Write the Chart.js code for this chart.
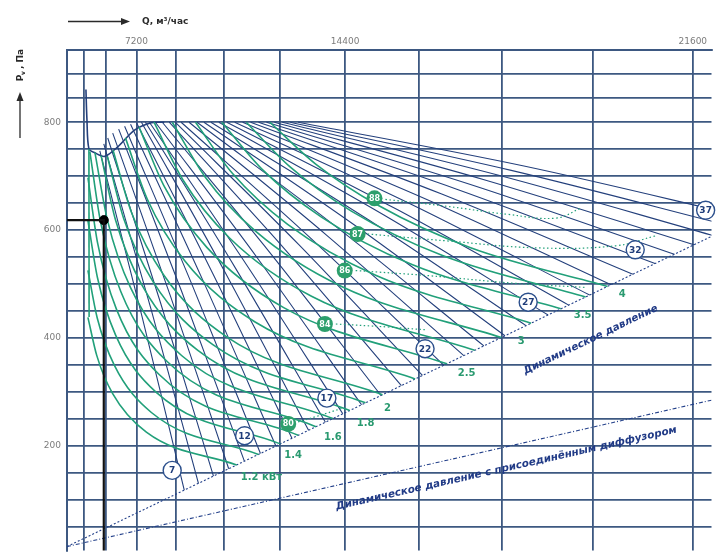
<!DOCTYPE html>
<html><head><meta charset="utf-8">
<script src="https://cdn.jsdelivr.net/npm/chart.js@4.4.1/dist/chart.umd.min.js"></script>
<style>html,body{margin:0;padding:0;background:#fff;}canvas{display:block}</style>
</head><body>
<canvas id="c" width="717" height="556"></canvas>
<script>
// ---------- axes ----------
const gridQ = [0,3600,5400,7200,9000,10800,12600,14400,16200,18000,19800,21600];
const xTickLabels = [7200,14400,21600];
const gridP = [50,100,150,200,250,300,350,400,450,500,550,600,650,700,750,800,845,890];
const yTickLabels = [200,400,600,800];

// ---------- blue fan curves (start / middle / end) ----------
const blueStartQ = [4947,5237,5512,5838,6206,6554,6884,7199,7451,7647,7838,8116,8429,8730,8981,9224,9540,9845,10104,10357,10639,10913,11181,11442,11698,11948,12193,12433,12668,12900,13127];
const blueStartP = [746.8,759.7,770.7,779.9,787.2,792.7,796.4,799.1,800,800,800,800,800,800,800,800,800,800,800,800,800,800,800,800,800,800,800,800,800,800,800];
const blueMidQ = [7481,7922,8354,8794,9240,9674,10079,10478,10855,11207,11558,11948,12353,12759,13147,13529,13909,14279,14639,14991,15361,15702,16041,16379,16715,17047,17344,17635,17920,18199,18457];
const blueMidP = [439.5,452.3,464.6,476.0,486.8,496.4,505.2,513.8,521.9,529.4,536.6,545.3,554.1,563.2,572.8,581.7,590.7,599.9,609.4,619.0,628.2,637.5,647.1,656.8,666.7,675.8,684.6,693.4,702.0,710.7,718.7];
const blueEndQ = [9350,9900,10450,10980,11500,12010,12480,12950,13420,13880,14340,14820,15300,15790,16280,16760,17200,17630,18070,18500,18940,19340,19740,20140,20540,20940,21280,21620,21950,22270,22560];
const blueEndP = [117.6,130.2,143.6,157.2,171.2,185.5,199.4,213.7,228.5,243.5,259.1,275.8,293.2,311.4,330.2,349.2,367.1,385.0,403.8,422.6,442.3,460.7,479.4,498.6,518.0,537.9,555.1,572.6,589.7,606.7,622.3];
// envelope with stall spike
const envQ = [3757,3855,4042,4558,5307,6146,7095,7932,8516];
const envP = [860.6,805.6,750.5,743.2,736.7,754.2,785.4,799.1,800];
// left stall boundary (teal)
const stallQ = [4042,4060];
const stallP = [750.5,438.6];

// ---------- green power curves ----------
const powerNames = ['1.2','1.3','1.4','1.5','1.6','1.7','1.8','1.9','2','2.25','2.5','2.75','3','3.25','3.5','3.75','4'];
const greenQ = [
 [3949,4714,5844,7692,11247],[3949,4743,5937,7932,11948],[3949,4768,6014,8146,12610],[3949,4783,6070,8300,13127],
 [4130,5000,6338,8651,13624],[4560,5490,6890,9254,14078],[5040,6025,7484,9878,14518],[5480,6510,8015,10428,14919],
 [5860,6934,8483,10924,15335],[6600,7739,9360,11842,16111],[7330,8533,10211,12711,16829],[8054,9306,11018,13502,17433],
 [8861,10148,11874,14309,17996],[9788,11103,12826,15183,18603],[10744,12071,13774,16038,19189],[11561,12888,14560,16733,19665],
 [12298,13617,15251,17333,20074]];
const greenP = [
 [438.1,367.0,296.0,224.9,164.3],[525.2,437.3,349.4,261.5,183.8],[617.6,511.5,405.5,299.4,203.3],[697,575.2,453.3,331.5,219.2],
 [745,615.2,485.4,355.6,235.1],[744,618.3,492.6,366.8,250.2],[738,617.6,497.2,376.7,265.2],[737,620.4,503.9,387.3,279.4],
 [748,632.5,517,401.5,294.4],[771,657.2,543.4,429.5,323.6],[791,679.4,567.8,456.1,352.0],[800,692.4,584.8,477.2,376.8],
 [800,698.5,597,495.4,400.7],[800,705.2,610.5,515.7,427.2],[800,712,624,535.9,453.8],[800,717.6,635.2,552.7,475.9],
 [800,722.5,645.1,567.6,495.4]];

// ---------- efficiency (dotted) ----------
const effNames = ['88','87','86','84','80'];
const effQ = [[15407,16829,18099,19093,19571],[14969,16829,18702,20221,20940],[14670,16384,18302,19665],[14157,15455,16384],[13127,13679,14338]];
const effP = [[656.9,644.1,629.4,622.1,640.4],[592.7,579.9,567.0,570.7,589.0],[524.8,515.6,501.0,493.6],[425.7,420.2,414.7],[244.1,255.1,269.7]];
const effLabelQ = [15141,14720,14390,13867,12843];
const effLabelP = [658.8,592.7,524.8,425.7,240.4];

// ---------- labels ----------
const bladeLabels = ['7','12','17','22','27','32','37'];
const bladeLabelQ = [8856,11507,13920,16339,18543,20583,21821];
const bladeLabelP = [154.1,218.4,288.1,379.8,466.1,563.3,636.7];
const powerLabels = ['1.2 кВт','1.4','1.6','1.8','2','2.5','3','3.5','4'];
const powerLabelQ = [12040,12986,14078,14919,15455,17263,18402,19609,20348];
const powerLabelP = [141.3,181.7,214.7,242.2,269.7,334.0,392.7,442.2,480.8];

// dynamic pressure lines
const dynQ = [0,22307];
const dynP = [12.8,608.7];
const dynDiffQ = [0,21921];
const dynDiffP = [12.8,284.4];

// operating point
const opQ = 5237, opP = 618.4;

// ---------- custom Q^2 scale ----------
class SquareScale extends Chart.LinearScale {
  getPixelForValue(v){const a=this.min*this.min,b=this.max*this.max;return this.getPixelForDecimal((v*v-a)/(b-a));}
  getValueForPixel(p){const a=this.min*this.min,b=this.max*this.max;return Math.sqrt(Math.max(0,a+this.getDecimalForPixel(p)*(b-a)));}
}
SquareScale.id='square';
SquareScale.defaults=Chart.LinearScale.defaults;
Chart.register(SquareScale);

const pts=(qs,ps)=>qs.map((q,i)=>({x:q,y:ps[i]}));
const BLUE='#24407c', GREEN='#22a07a', GRID='#3d5881';
const datasets=[];
datasets.push({data:[{x:0,y:opP},{x:opQ,y:opP},{x:opQ,y:0}],borderColor:'#111',borderWidth:2.2,pointRadius:0,showLine:true,tension:0});
datasets.push({data:[{x:opQ,y:opP}],pointRadius:4.5,pointBackgroundColor:'#000',pointBorderColor:'#000',showLine:false});
effQ.forEach((q,i)=>datasets.push({data:pts(q,effP[i]),borderColor:GREEN,borderWidth:1.2,borderDash:[1.5,2.5],pointRadius:0,showLine:true,tension:0.4}));
greenQ.forEach((q,i)=>datasets.push({data:pts(q,greenP[i]),borderColor:GREEN,borderWidth:1.6,pointRadius:0,showLine:true,cubicInterpolationMode:'monotone'}));
datasets.push({data:pts(stallQ,stallP),borderColor:GREEN,borderWidth:1.6,pointRadius:0,showLine:true});
blueStartQ.forEach((q,i)=>datasets.push({data:[{x:q,y:blueStartP[i]},{x:blueMidQ[i],y:blueMidP[i]},{x:blueEndQ[i],y:blueEndP[i]}],borderColor:BLUE,borderWidth:1.1,pointRadius:0,showLine:true,cubicInterpolationMode:'monotone'}));
datasets.push({data:pts(envQ,envP),borderColor:BLUE,borderWidth:1.6,pointRadius:0,showLine:true,tension:0.3});
datasets.push({data:pts(dynQ,dynP),borderColor:'#23408a',borderWidth:1.1,borderDash:[2,2],pointRadius:0,showLine:true});
datasets.push({data:pts(dynDiffQ,dynDiffP),borderColor:'#23408a',borderWidth:1.1,borderDash:[4,2,1,2],pointRadius:0,showLine:true});

const labelPlugin={id:'labels',afterDatasetsDraw(chart){
  const ctx=chart.ctx,x=chart.scales.x,y=chart.scales.y;
  ctx.save();
  effNames.forEach((t,i)=>{const px=x.getPixelForValue(effLabelQ[i]),py=y.getPixelForValue(effLabelP[i]);
    ctx.beginPath();ctx.arc(px,py,8,0,Math.PI*2);ctx.fillStyle='#2c9f6c';ctx.fill();
    ctx.fillStyle='#fff';ctx.font='bold 8px "DejaVu Sans"';ctx.textAlign='center';ctx.textBaseline='middle';ctx.fillText(t,px,py+0.5);});
  bladeLabels.forEach((t,i)=>{const px=x.getPixelForValue(bladeLabelQ[i]),py=y.getPixelForValue(bladeLabelP[i]);
    ctx.beginPath();ctx.arc(px,py,9,0,Math.PI*2);ctx.fillStyle='#fff';ctx.fill();ctx.lineWidth=1.4;ctx.strokeStyle='#2b4f8c';ctx.stroke();
    ctx.fillStyle='#1f3d7a';ctx.font='bold 9px "DejaVu Sans"';ctx.textAlign='center';ctx.textBaseline='middle';ctx.fillText(t,px,py+0.5);});
  ctx.fillStyle='#2a9a70';ctx.font='bold 10px "DejaVu Sans"';ctx.textAlign='center';ctx.textBaseline='middle';
  powerLabels.forEach((t,i)=>{const px=x.getPixelForValue(powerLabelQ[i]),py=y.getPixelForValue(powerLabelP[i]);ctx.fillText(t,px,py);});
  const along=(qs,ps,cq,cp,text,len,off)=>{
    const x0=x.getPixelForValue(qs[0]),y0=y.getPixelForValue(ps[0]),x1=x.getPixelForValue(qs[1]),y1=y.getPixelForValue(ps[1]);
    const ang=Math.atan2(y1-y0,x1-x0);
    const px=x.getPixelForValue(cq),py=y.getPixelForValue(cp);
    ctx.save();ctx.translate(px,py);ctx.rotate(ang);
    let fs=10;ctx.font='italic bold '+fs+'px "DejaVu Sans"';const w=ctx.measureText(text).width;
    fs=fs*len/w;ctx.font='italic bold '+fs.toFixed(2)+'px "DejaVu Sans"';
    ctx.fillStyle='#203a86';ctx.textAlign='center';ctx.textBaseline='middle';ctx.fillText(text,0,off);ctx.restore();};
  along(dynQ,dynP,19760,396.4,'Динамическое давление',148,0);
  along(dynDiffQ,dynDiffP,18099,157.8,'Динамическое давление с присоединённым диффузором',350,0);
  ctx.restore();
}};

const titlePlugin={id:'titles',afterDraw(chart){
  const ctx=chart.ctx;ctx.save();
  ctx.strokeStyle='#2a2a2a';ctx.fillStyle='#2a2a2a';ctx.lineWidth=1.3;
  ctx.beginPath();ctx.moveTo(68,21.5);ctx.lineTo(124,21.5);ctx.stroke();
  ctx.beginPath();ctx.moveTo(130,21.5);ctx.lineTo(121,18);ctx.lineTo(121,25);ctx.closePath();ctx.fill();
  ctx.font='bold 9px "DejaVu Sans"';ctx.textAlign='left';ctx.textBaseline='middle';ctx.fillText('Q, м³/час',142,21.5);
  ctx.beginPath();ctx.moveTo(20,138);ctx.lineTo(20,99);ctx.stroke();
  ctx.beginPath();ctx.moveTo(20,92);ctx.lineTo(16.5,101);ctx.lineTo(23.5,101);ctx.closePath();ctx.fill();
  ctx.translate(21,64);ctx.rotate(-Math.PI/2);ctx.textAlign='center';
  ctx.font='bold 9px "DejaVu Sans"';ctx.fillText('P',-14,0);ctx.font='bold 6px "DejaVu Sans"';ctx.fillText('v',-9,2);
  ctx.font='bold 9px "DejaVu Sans"';ctx.fillText(', Па',5,0);
  ctx.restore();
}};

const noPad=s=>{s.paddingTop=0;s.paddingBottom=0;s.paddingLeft=0;s.paddingRight=0;};

new Chart(document.getElementById('c'),{
  type:'scatter',
  data:{datasets},
  options:{
    responsive:false,animation:false,devicePixelRatio:1,
    layout:{padding:0},
    plugins:{legend:{display:false},tooltip:{enabled:false}},
    elements:{point:{radius:0}},
    scales:{
      x:{type:'square',position:'top',min:0,max:21921,
        afterBuildTicks:s=>{s.ticks=gridQ.map(v=>({value:v}));},
        afterFit:s=>{s.height=50;noPad(s);},
        ticks:{autoSkip:false,maxRotation:0,padding:3,color:'#7c7c7c',font:{size:9,family:'DejaVu Sans'},callback:v=>xTickLabels.includes(v)?String(v):''},
        grid:{color:GRID,lineWidth:1.8,drawTicks:false},
        border:{display:true,color:GRID,width:2}},
      y:{type:'linear',min:5.5,max:934,
        afterBuildTicks:s=>{s.ticks=gridP.map(v=>({value:v}));},
        afterFit:s=>{s.width=67;noPad(s);},
        ticks:{autoSkip:false,padding:6,color:'#7c7c7c',font:{size:9,family:'DejaVu Sans'},callback:v=>yTickLabels.includes(v)?String(v):''},
        grid:{color:GRID,lineWidth:1.8,drawTicks:false},
        border:{display:true,color:GRID,width:2}}
    }
  },
  plugins:[labelPlugin,titlePlugin]
});
</script>
</body></html>
